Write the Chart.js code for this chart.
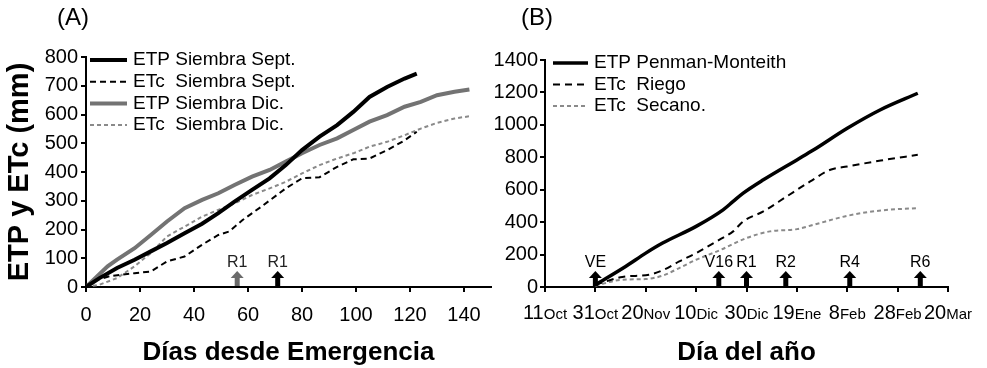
<!DOCTYPE html>
<html><head><meta charset="utf-8">
<script src="https://cdn.jsdelivr.net/npm/chart.js@4.4.0/dist/chart.umd.min.js"></script>
<style>
html,body{margin:0;padding:0;background:#fff;}
#wrap{position:relative;width:987px;height:368px;overflow:hidden;}
#ca{position:absolute;left:0;top:0;}
#cb{position:absolute;left:492px;top:0;}
</style></head><body>
<div id="wrap"><canvas id="ca" width="492" height="368"></canvas><canvas id="cb" width="495" height="368"></canvas></div>
<script>
// ---------- Panel A: days since emergence ----------
const tickValsA = [0, 20, 40, 60, 80, 100, 120, 140];
const daysEtpSept = [0, 5, 11.5, 18, 24, 30, 36.5, 43, 49, 55, 61.5, 68, 74, 80, 86.5, 93, 99, 105, 111.5, 118, 122.5];
const etpSept     = [0, 31, 66, 95, 124, 153, 187, 220, 257, 297, 338, 378, 424, 476, 523, 563, 609, 661, 696, 725, 742];
const daysEtcSept = [0, 4, 9, 18, 24, 30, 36.5, 43, 49, 53, 58, 65, 74, 80, 86.5, 93, 99, 105, 111.5, 118, 122.5];
const etcSept     = [0, 25, 38, 48, 54, 89, 106, 147, 181, 193, 233, 280, 343, 378, 382, 418, 444, 447, 476, 510, 540];
const daysEtpDic  = [0, 8, 11.5, 18, 24, 30, 36.5, 43, 49, 55, 61.5, 68, 74, 80, 86.5, 93, 99, 105, 111.5, 118, 124, 130, 136.5, 142];
const etpDic      = [0, 72, 95, 135, 181, 228, 274, 303, 326, 355, 384, 407, 436, 465, 494, 517, 546, 575, 598, 627, 644, 667, 679, 687];
const daysEtcDic  = [0, 5, 11.5, 18, 24, 30, 36.5, 43, 49, 55, 61.5, 68, 74, 80, 86.5, 93, 99, 105, 111.5, 118, 124, 130, 136.5, 142];
const etcDic      = [0, 8, 31, 72, 118, 176, 210, 245, 268, 291, 320, 343, 366, 395, 424, 447, 465, 488, 505, 528, 551, 571, 586, 594];
const arrowDaysA   = [56, 71];
const arrowLabelsA = ['R1', 'R1'];

// ---------- Panel B: day of year (0 = 11 Oct) ----------
const tickNumsB   = ['11', '31', '20', '10', '30', '19', '8', '28', '20'];
const tickMonthsB = ['Oct', 'Oct', 'Nov', 'Dic', 'Dic', 'Ene', 'Feb', 'Feb', 'Mar'];
const daysEtpPM = [20, 32, 40, 46.7, 60, 70.7, 74.7, 78.7, 86.7, 100, 106.7, 120, 133, 148];
const etpPM     = [14, 127, 209, 271, 374, 476, 528, 579, 661, 784, 846, 979, 1092, 1195];
const daysRiego = [20, 30.7, 41.3, 46.7, 53.3, 60, 69.3, 74.7, 78.7, 86.7, 96, 105.3, 113.3, 120, 133.3, 148];
const etcRiego  = [14, 62, 76, 103, 158, 209, 292, 343, 405, 466, 559, 651, 723, 743, 780, 815];
const daysSecano = [20, 30.7, 40, 46.7, 53.3, 60, 69.3, 80, 89.3, 100, 106.7, 120, 133.3, 148];
const etcSecano  = [8, 45, 49, 70, 117, 168, 226, 302, 343, 357, 384, 439, 472, 487];
const arrowDaysB   = [20, 69, 80, 95.6, 121, 149];
const arrowLabelsB = ['VE', 'V16', 'R1', 'R2', 'R4', 'R6'];

const FONT = "'Liberation Sans', Arial, Helvetica, sans-serif";
const pts = (xs, ys) => xs.map((x, i) => ({x: x, y: ys[i]}));

const overlay = {
  id: 'overlay',
  afterDatasetsDraw(chart, args, o) {
    const ctx = chart.ctx, xs = chart.scales.x, ys = chart.scales.y;
    ctx.save();
    ctx.fillStyle = '#000';
    ctx.textBaseline = 'middle';
    ctx.textAlign = 'center';
    ctx.font = '24px ' + FONT;
    ctx.fillText(o.panel, o.panelX, o.panelY);
    // legend
    chart.data.datasets.forEach((ds, i) => {
      const y = o.legY + i * o.legStep;
      ctx.beginPath();
      ctx.setLineDash(ds.borderDash || []);
      ctx.lineWidth = ds.borderWidth;
      ctx.strokeStyle = ds.borderColor;
      ctx.lineCap = 'butt';
      ctx.moveTo(o.legX1, y); ctx.lineTo(o.legX2, y); ctx.stroke();
      ctx.setLineDash([]);
      ctx.fillStyle = '#000';
      ctx.textAlign = 'left';
      ctx.font = '19px ' + FONT;
      ctx.fillText(ds.label, o.legText, y);
    });
    // arrows
    const base = ys.getPixelForValue(0) - 1;
    o.arrowDays.forEach((d, i) => {
      const x = xs.getPixelForValue(d);
      ctx.fillStyle = o.arrowColors[i];
      ctx.fillRect(x - 2.5, base - 9, 5, 9);
      ctx.beginPath();
      ctx.moveTo(x - 6.5, base - 8); ctx.lineTo(x + 6.5, base - 8); ctx.lineTo(x, base - 15);
      ctx.closePath(); ctx.fill();
      ctx.fillStyle = o.labelColor;
      ctx.textAlign = 'center';
      ctx.font = '16px ' + FONT;
      ctx.fillText(o.arrowLabels[i], x, base - 23);
    });
    // mixed-size date tick labels
    if (o.tickNums) {
      xs.ticks.forEach((t, i) => {
        const x = xs.getPixelForValue(t.value);
        ctx.font = '20px ' + FONT;
        const wn = ctx.measureText(o.tickNums[i]).width;
        ctx.font = '15px ' + FONT;
        const wm = ctx.measureText(o.tickMonths[i]).width;
        let sx = x - (wn + wm) / 2;
        ctx.textAlign = 'left'; ctx.textBaseline = 'alphabetic'; ctx.fillStyle = '#000';
        ctx.font = '20px ' + FONT;
        ctx.fillText(o.tickNums[i], sx, 319);
        ctx.font = '15px ' + FONT;
        ctx.fillText(o.tickMonths[i], sx + wn, 319);
      });
    }
    ctx.restore();
  }
};

function axisCommon() {
  return {
    border: {display: true, color: '#000', width: 2},
    grid: {display: true, drawOnChartArea: false, drawTicks: true, tickLength: 5, color: '#000', lineWidth: 2}
  };
}
const plain = v => String(v);

// ---------- Chart A ----------
new Chart(document.getElementById('ca'), {
  type: 'line',
  data: {datasets: [
    {label: 'ETP Siembra Sept.', data: pts(daysEtpSept, etpSept), borderColor: '#000', borderWidth: 4, borderDash: []},
    {label: 'ETc  Siembra Sept.', data: pts(daysEtcSept, etcSept), borderColor: '#000', borderWidth: 2, borderDash: [6, 4]},
    {label: 'ETP Siembra Dic.', data: pts(daysEtpDic, etpDic), borderColor: '#737373', borderWidth: 4, borderDash: []},
    {label: 'ETc  Siembra Dic.', data: pts(daysEtcDic, etcDic), borderColor: '#8a8a8a', borderWidth: 2, borderDash: [4, 3]}
  ]},
  options: {
    responsive: false, animation: false, devicePixelRatio: 1,
    layout: {padding: {left: 0, right: 1, top: 57, bottom: 0}},
    elements: {point: {radius: 0}, line: {tension: 0, borderCapStyle: 'butt'}},
    plugins: {legend: {display: false}, tooltip: {enabled: false},
      overlay: {panel: '(A)', panelX: 73, panelY: 18, legY: 60, legStep: 21.7, legX1: 90, legX2: 127, legText: 133,
        arrowDays: arrowDaysA, arrowLabels: arrowLabelsA, arrowColors: ['#6b6b6b', '#000'], labelColor: '#222'}},
    scales: {
      x: Object.assign(axisCommon(), {type: 'linear', min: 0, max: 150,
        afterBuildTicks: s => { s.ticks = tickValsA.map(v => ({value: v})); },
        afterFit: s => { s.height = 81; },
        ticks: {color: '#000', font: {family: FONT, size: 20}, padding: 11, callback: plain},
        title: {display: true, text: 'Días desde Emergencia', color: '#000', font: {family: FONT, size: 26, weight: 'bold'}, padding: {top: 0, bottom: 0}}
      }),
      y: Object.assign(axisCommon(), {type: 'linear', min: 0, max: 800,
        afterFit: s => { s.width = 86; },
        ticks: {stepSize: 100, color: '#000', font: {family: FONT, size: 20}, padding: 3, callback: plain},
        title: {display: true, text: 'ETP y ETc (mm)', color: '#000', font: {family: FONT, size: 29, weight: 'bold'}, padding: {top: 3, bottom: 0}}
      })
    }
  },
  plugins: [overlay]
});

// ---------- Chart B ----------
new Chart(document.getElementById('cb'), {
  type: 'line',
  data: {datasets: [
    {label: 'ETP Penman-Monteith', data: pts(daysEtpPM, etpPM), borderColor: '#000', borderWidth: 3.5, borderDash: []},
    {label: 'ETc  Riego', data: pts(daysRiego, etcRiego), borderColor: '#000', borderWidth: 2, borderDash: [7, 5]},
    {label: 'ETc  Secano.', data: pts(daysSecano, etcSecano), borderColor: '#8a8a8a', borderWidth: 2, borderDash: [4, 3]}
  ]},
  options: {
    responsive: false, animation: false, devicePixelRatio: 1,
    layout: {padding: {left: 0, right: 39, top: 60, bottom: 0}},
    elements: {point: {radius: 0}, line: {tension: 0.3, cubicInterpolationMode: 'monotone', borderCapStyle: 'butt'}},
    plugins: {legend: {display: false}, tooltip: {enabled: false},
      overlay: {panel: '(B)', panelX: 45, panelY: 18, legY: 63, legStep: 21.5, legX1: 61, legX2: 96, legText: 102,
        arrowDays: arrowDaysB, arrowLabels: arrowLabelsB, arrowColors: arrowDaysB.map(() => '#000'), labelColor: '#000',
        tickNums: tickNumsB, tickMonths: tickMonthsB}},
    scales: {
      x: Object.assign(axisCommon(), {type: 'linear', min: 0, max: 160,
        afterFit: s => { s.height = 81; },
        ticks: {stepSize: 20, display: false},
        title: {display: true, text: 'Día del año', color: '#000', font: {family: FONT, size: 26, weight: 'bold'}, padding: {top: 0, bottom: 0}}
      }),
      y: Object.assign(axisCommon(), {type: 'linear', min: 0, max: 1400,
        afterFit: s => { s.width = 53; },
        ticks: {stepSize: 200, color: '#000', font: {family: FONT, size: 20}, padding: 2, callback: plain}
      })
    }
  },
  plugins: [overlay]
});
</script>
</body></html>
